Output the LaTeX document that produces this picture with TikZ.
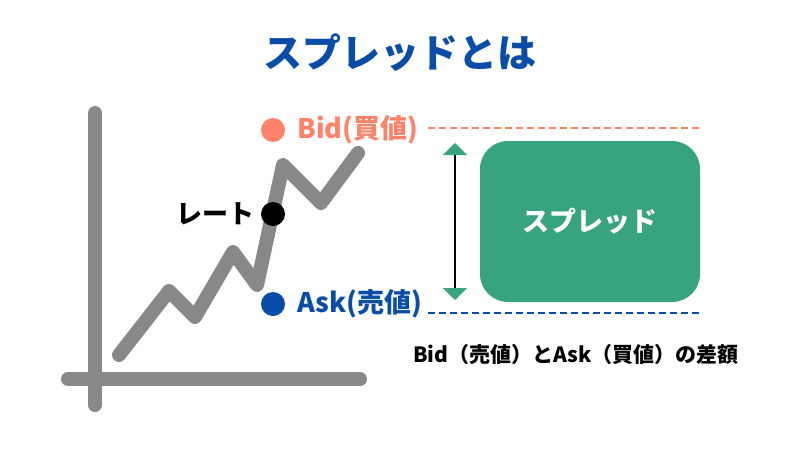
\documentclass[tikz,border=0pt]{standalone}
\usepackage{fontspec}
\usepackage{xcolor}
\usepackage{tikz}
\usetikzlibrary{positioning,arrows.meta}
\setmainfont{Noto Sans CJK JP}
\definecolor{TitleBlue}{HTML}{0A4DA8}
\definecolor{BidSalmon}{HTML}{FF8269}
\definecolor{AskBlue}{HTML}{0A4DA8}
\definecolor{SpreadGreen}{HTML}{38A47F}
\definecolor{ChartGray}{HTML}{888888}

\begin{document}
\begin{tikzpicture}[x=1pt,y=-1pt,
    axisline/.style={draw=ChartGray, line width=14pt, line cap=round},
    chartline/.style={draw=ChartGray, line width=14pt, line cap=round, line join=round},
    dot/.style={circle, minimum size=24pt, inner sep=0pt},
    pricelabel/.style={inner sep=0pt, font=\fontsize{27}{30}\selectfont\bfseries},
    pricedash/.style={line width=1.4pt, dash pattern=on 7pt off 4pt}]
  \useasboundingbox (0,0) rectangle (800,450);

  % title
  \node (title) at (400,53)
    {\fontsize{39}{42}\selectfont\bfseries\color{TitleBlue}スプレッドとは};

  % chart
  \draw[axisline] (95,113) -- (95,405);
  \draw[axisline] (68,379) -- (360,379);
  \draw[chartline] (119,355) -- (169,291) -- (195,317) -- (233,252)
    -- (257,285) -- (283,165) -- (321,203) -- (358,153);

  \node[dot, fill=black] (rate) at (273,214) {};
  \node[left=6pt of rate, inner sep=0pt] (ratelbl)
    {\fontsize{26}{30}\selectfont\bfseries レート};

  % bid / ask
  \node[dot, fill=BidSalmon] (bid) at (273,130) {};
  \node[pricelabel, right=12pt of bid, text=BidSalmon] (bidlbl) {Bid(買値)};
  \node[dot, fill=AskBlue] (ask) at (273,304) {};
  \node[pricelabel, right=12pt of ask, text=AskBlue] (asklbl) {Ask(売値)};

  \coordinate (bidstart) at (428,128);
  \coordinate (bidend) at (700,128);
  \coordinate (askstart) at (428,313);
  \coordinate (askend) at (700,313);
  \draw[pricedash, BidSalmon] (bidstart) -- (bidend);
  \draw[pricedash, AskBlue] (askstart) -- (askend);

  % spread
  \coordinate (sptop) at (455,143);
  \coordinate (spbot) at (455,300);
  \draw[line width=1.5pt,
    {Triangle[width=24pt,length=12pt,color=SpreadGreen]}-{Triangle[width=24pt,length=12pt,color=SpreadGreen]}]
    (sptop) -- (spbot);

  \node[fill=SpreadGreen, rounded corners=28pt, minimum width=220pt,
        minimum height=161pt] (spread) at (590,221.5)
    {\fontsize{27}{30}\selectfont\bfseries\color{white}スプレッド};

  \node[anchor=west, inner sep=0pt] (note) at (413,355)
    {\fontsize{21}{24}\selectfont\bfseries Bid（売値）とAsk（買値）の差額};
\end{tikzpicture}
\end{document}
